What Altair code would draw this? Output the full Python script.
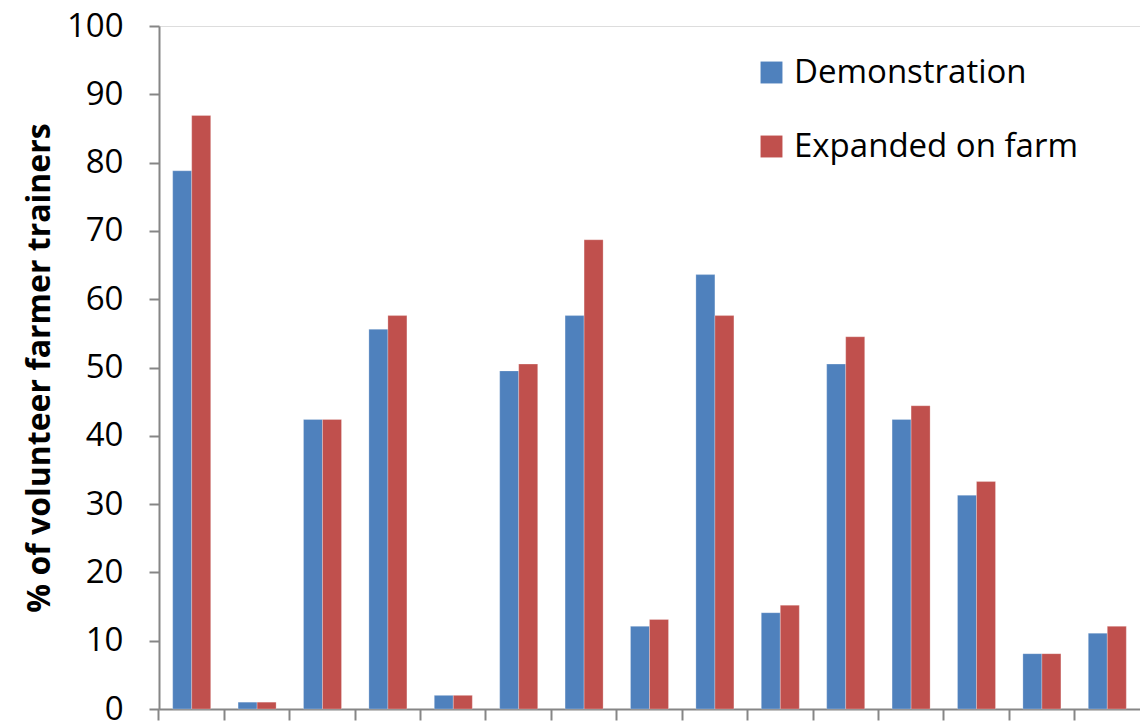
import altair as alt
import pandas as pd

categories = [f"C{i}" for i in range(1, 16)]
series = ["Demonstration", "Expanded on farm"]
demonstration = [78.8, 1.0, 42.4, 55.6, 2.0, 49.5, 57.6, 12.1, 63.6, 14.1, 50.5, 42.4, 31.3, 8.1, 11.1]
expanded = [86.9, 1.0, 42.4, 57.6, 2.0, 50.5, 68.7, 13.1, 57.6, 15.2, 54.5, 44.4, 33.3, 8.1, 12.1]
colors = ["#4F81BD", "#C0504D"]

rows = []
for c, d, e in zip(categories, demonstration, expanded):
    rows.append({"cat": c, "series": series[0], "value": d})
    rows.append({"cat": c, "series": series[1], "value": e})
df = pd.DataFrame(rows)

FONT = "Open Sans"

chart = alt.Chart(df).mark_bar(stroke="#ffffff", strokeOpacity=0.5, strokeWidth=0.5).encode(
    x=alt.X("cat:N", sort=categories,
            scale=alt.Scale(paddingInner=0, paddingOuter=0),
            axis=alt.Axis(title=None, labels=False, ticks=True, tickSize=11, bandPosition=0,
                          domainColor="#868686", tickColor="#868686", domainWidth=2, tickWidth=2,
                          grid=False)),
    xOffset=alt.XOffset("series:N", sort=series,
                        scale=alt.Scale(paddingInner=0, paddingOuter=0.72)),
    y=alt.Y("value:Q",
            scale=alt.Scale(domain=[0, 100], nice=False),
            axis=alt.Axis(title="% of volunteer farmer trainers", values=list(range(0, 101, 10)),
                          grid=False, tickSize=10, domainColor="#868686", tickColor="#868686",
                          domainWidth=2, tickWidth=2, labelFont=FONT, labelFontSize=33,
                          labelColor="#000000", labelPadding=26, titleFont=FONT, titleFontSize=32,
                          titleFontWeight="bold", titleColor="#000000", titlePadding=10)),
    color=alt.Color("series:N", sort=series,
                    scale=alt.Scale(domain=series, range=colors),
                    legend=alt.Legend(title=None, orient="none", legendX=596, legendY=30,
                                      symbolType="square", symbolSize=480, symbolStrokeWidth=0,
                                      labelFont=FONT, labelFontSize=33, labelColor="#000000",
                                      rowPadding=40, labelOffset=6, labelLimit=400)),
).properties(
    width=981, height=683,
    autosize=alt.AutoSizeParams(type="none"),
    padding={"left": 159, "top": 26, "right": 0, "bottom": 16},
).configure_view(stroke=None).configure(background="#ffffff")

chart.save("out.html", embed_options={"renderer": "svg", "actions": False})
